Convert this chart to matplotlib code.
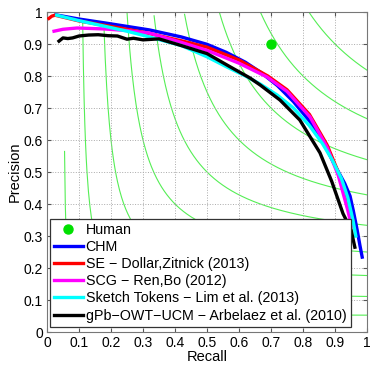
import numpy as np
import matplotlib
matplotlib.use('Agg')
import matplotlib.pyplot as plt

plt.rcParams['font.family'] = ['Liberation Sans', 'DejaVu Sans']

# ---------------- datos ----------------
human = (0.70, 0.90)

chm_r = [0.028, 0.10, 0.18, 0.25, 0.32, 0.42, 0.50, 0.56, 0.62, 0.67, 0.72, 0.77, 0.82, 0.87, 0.90, 0.93, 0.947, 0.957, 0.969, 0.978, 0.985]
chm_p = [0.991, 0.978, 0.966, 0.955, 0.944, 0.922, 0.899, 0.874, 0.843, 0.81, 0.77, 0.72, 0.66, 0.58, 0.52, 0.465, 0.425, 0.38, 0.32, 0.27, 0.234]

se_r = [0.006, 0.015, 0.025, 0.10, 0.20, 0.30, 0.42, 0.50, 0.60, 0.69, 0.75, 0.82, 0.875, 0.91, 0.935, 0.955]
se_p = [0.980, 0.987, 0.990, 0.972, 0.955, 0.937, 0.910, 0.890, 0.850, 0.800, 0.757, 0.680, 0.585, 0.500, 0.430, 0.350]

scg_r = [0.022, 0.05, 0.094, 0.18, 0.25, 0.32, 0.42, 0.50, 0.60, 0.6875, 0.75, 0.822, 0.875, 0.91, 0.94, 0.952]
scg_p = [0.940, 0.946, 0.950, 0.947, 0.942, 0.934, 0.905, 0.880, 0.840, 0.797, 0.752, 0.672, 0.578, 0.490, 0.380, 0.330]

st_r = [0.03, 0.10, 0.178, 0.25, 0.32, 0.42, 0.50, 0.5625, 0.62, 0.666, 0.72, 0.77, 0.82, 0.86, 0.89, 0.92, 0.94, 0.956, 0.965]
st_p = [0.990, 0.973, 0.956, 0.940, 0.922, 0.895, 0.860, 0.828, 0.800, 0.775, 0.740, 0.700, 0.645, 0.590, 0.540, 0.480, 0.420, 0.350, 0.300]

gpb_r = [0.0375, 0.05, 0.065, 0.08, 0.10, 0.13, 0.16, 0.19, 0.22, 0.25, 0.27, 0.30, 0.35, 0.42, 0.50, 0.57, 0.634, 0.666, 0.728, 0.79, 0.853, 0.89, 0.925, 0.95, 0.962]
gpb_p = [0.909, 0.919, 0.917, 0.919, 0.925, 0.928, 0.929, 0.926, 0.925, 0.915, 0.918, 0.913, 0.916, 0.895, 0.870, 0.830, 0.794, 0.772, 0.725, 0.6625, 0.560, 0.470, 0.370, 0.320, 0.265]

f_levels = [0.1, 0.2, 0.3, 0.4, 0.5, 0.6, 0.7, 0.8, 0.9]
ticks = [0, 0.1, 0.2, 0.3, 0.4, 0.5, 0.6, 0.7, 0.8, 0.9, 1]
tick_labels = ['0', '0.1', '0.2', '0.3', '0.4', '0.5', '0.6', '0.7', '0.8', '0.9', '1']

# ---------------- figura ----------------
fig = plt.figure(figsize=(3.74, 3.68), dpi=100)
ax = fig.add_axes([47/374, 36/368, 320/374, 320/368])

# curvas iso-F
for F in f_levels:
    r = np.linspace(F/2 + 1e-4, 1, 400)
    p = F*r/(2*r - F)
    m = p <= 1.0
    ax.plot(r[m], p[m], color='#55ee55', lw=0.8, zorder=1)

ax.plot(human[0], human[1], 'o', color='#00e000', ms=6.5, label='Human', zorder=5)
ax.plot(chm_r, chm_p, color='#0000ff', lw=2.4, label='CHM', zorder=3)
ax.plot(se_r, se_p, color='#ff0000', lw=2.4, label='SE \u2212 Dollar,Zitnick (2013)', zorder=3)
ax.plot(scg_r, scg_p, color='#ff00ff', lw=2.4, label='SCG \u2212 Ren,Bo (2012)', zorder=3)
ax.plot(st_r, st_p, color='#00ffff', lw=2.4, label='Sketch Tokens \u2212 Lim et al. (2013)', zorder=3)
ax.plot(gpb_r, gpb_p, color='#000000', lw=2.4, label='gPb\u2212OWT\u2212UCM \u2212 Arbelaez et al. (2010)', zorder=4)

ax.set_xlim(0, 1)
ax.set_ylim(0, 1)
ax.set_xticks(ticks)
ax.set_yticks(ticks)
ax.set_xticklabels(tick_labels)
ax.set_yticklabels(tick_labels)
ax.tick_params(direction='in', length=3, labelsize=10, top=True, right=True, color='#555555', pad=3)
ax.grid(True, linestyle=':', color='#aaaaaa', lw=0.7)
for s in ax.spines.values():
    s.set_color('#777777')
ax.set_xlabel('Recall', fontsize=10.5, labelpad=0)
ax.set_ylabel('Precision', fontsize=10.5, labelpad=1)

leg = ax.legend(loc='lower left', bbox_to_anchor=(0.009, 0.016), borderaxespad=0,
                fontsize=10.3, fancybox=False, edgecolor='#333333', framealpha=1,
                handlelength=2.0, handletextpad=0.2, labelspacing=0.22, borderpad=0.3, numpoints=1)
leg.get_frame().set_linewidth(0.9)
leg.set_zorder(10)

fig.savefig('out.png', dpi=100)
